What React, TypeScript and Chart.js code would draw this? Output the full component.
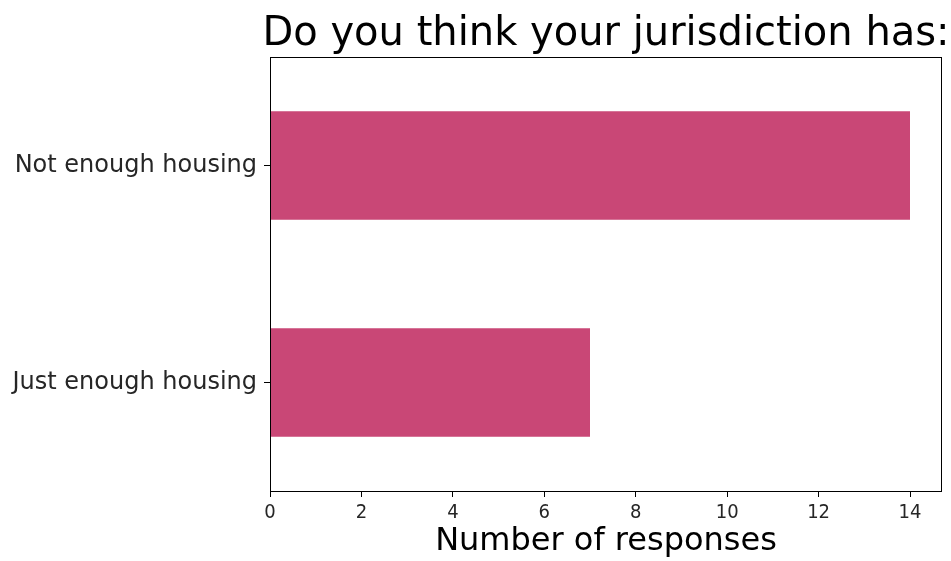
import React, { useEffect, useRef } from "react";
import { Chart, registerables } from "chart.js";

Chart.register(...registerables);

const categories = ["Not enough housing", "Just enough housing"];
const responses = [14, 7];
const xTickValues = [0, 2, 4, 6, 8, 10, 12, 14];
const xMax = 14.7;
const titleText = "Do you think your jurisdiction has:";
const xAxisTitle = "Number of responses";

const FONT = "'DejaVu Sans', sans-serif";
const FONT_COND = "'DejaVu Sans Condensed', 'DejaVu Sans', sans-serif";

export default function App() {
  const ref = useRef<HTMLCanvasElement | null>(null);
  useEffect(() => {
    document.body.style.margin = "0";
    const framePlugin = {
      id: "frameAndTitle",
      afterDraw(chart: any) {
        const { ctx, chartArea } = chart;
        ctx.save();
        ctx.strokeStyle = "#000";
        ctx.lineWidth = 1;
        ctx.strokeRect(
          Math.round(chartArea.left) + 0.5,
          Math.round(chartArea.top) + 0.5,
          Math.round(chartArea.right - chartArea.left) - 1,
          Math.round(chartArea.bottom - chartArea.top)
        );
        ctx.fillStyle = "#000";
        ctx.font = `40px ${FONT}`;
        ctx.textAlign = "center";
        ctx.textBaseline = "alphabetic";
        ctx.fillText(titleText, (chartArea.left + chartArea.right) / 2, 45);
        ctx.restore();
      },
    };
    const chart = new Chart(ref.current as HTMLCanvasElement, {
      type: "bar",
      data: {
        labels: categories,
        datasets: [
          {
            data: responses,
            backgroundColor: "#C94776",
            borderWidth: 0,
            categoryPercentage: 0.5,
            barPercentage: 1,
          },
        ],
      },
      options: {
        indexAxis: "y",
        animation: false,
        responsive: false,
        layout: { padding: { left: 0, right: 9, top: 57, bottom: 0 } },
        plugins: {
          legend: { display: false },
          tooltip: { enabled: false },
          title: { display: false },
        },
        scales: {
          x: {
            min: 0,
            max: xMax,
            afterBuildTicks(scale: any) {
              scale.ticks = xTickValues.map((v) => ({ value: v }));
            },
            afterFit(scale: any) {
              scale.height = 70;
            },
            border: { display: false },
            grid: {
              display: true,
              drawOnChartArea: false,
              drawTicks: true,
              tickLength: 6,
              color: "#000",
            },
            ticks: {
              color: "#262626",
              font: { family: FONT_COND, size: 20 },
              padding: 4,
              maxRotation: 0,
            },
            title: {
              display: true,
              text: xAxisTitle,
              color: "#000",
              font: { family: FONT, size: 32 },
              padding: { top: 0, bottom: 0 },
            },
          },
          y: {
            afterFit(scale: any) {
              scale.width = 270;
            },
            border: { display: false },
            grid: {
              display: true,
              offset: false,
              drawOnChartArea: false,
              drawTicks: true,
              tickLength: 6,
              color: "#000",
            },
            ticks: {
              color: "#262626",
              font: { family: FONT, size: 24 },
              padding: 7,
            },
          },
        },
      },
      plugins: [framePlugin],
    });
    return () => chart.destroy();
  }, []);
  return (
    <div style={{ position: "absolute", left: 0, top: 0, width: 951, height: 561 }}>
      <canvas ref={ref} width={951} height={561} style={{ width: 951, height: 561 }} />
    </div>
  );
}
